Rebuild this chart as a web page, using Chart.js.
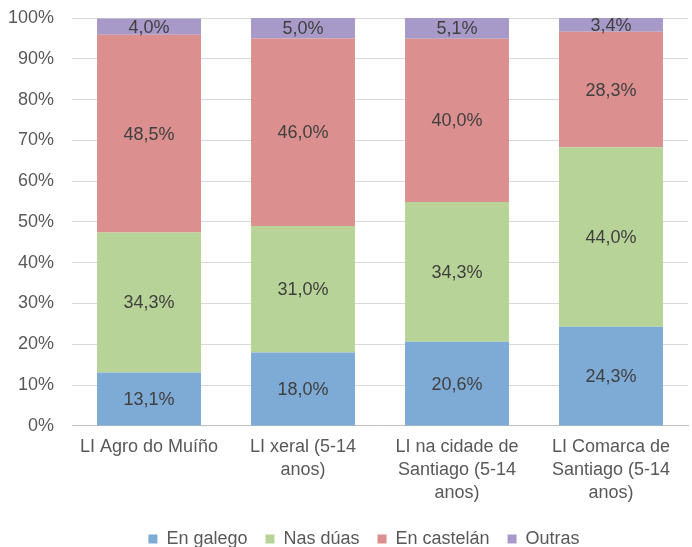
<!DOCTYPE html>
<html>
<head>
<meta charset="utf-8">
<script src="https://cdn.jsdelivr.net/npm/chart.js@4.4.0/dist/chart.umd.min.js"></script>
<style>
  html, body { margin: 0; padding: 0; background: #fff; }
  #wrap { width: 692px; height: 547px; }
</style>
</head>
<body>
<div id="wrap"><canvas id="grafico" width="692" height="547"></canvas></div>
<script>
// datos
const categorias = [
    "LI Agro do Muíño",
    ["LI xeral (5-14", "anos)"],
    ["LI na cidade de", "Santiago (5-14", "anos)"],
    ["LI Comarca de", "Santiago (5-14", "anos)"]
];
const enGalego = [13.1, 18.0, 20.6, 24.3];
const nasDuas = [34.3, 31.0, 34.3, 44.0];
const enCastelan = [48.5, 46.0, 40.0, 28.3];
const outras = [4.0, 5.0, 5.1, 3.4];

const fuente = "'Liberation Sans', Arial, sans-serif";

// etiquetas dentro das barras
const etiquetas = {
    id: "etiquetas",
    afterDatasetsDraw(chart) {
        const ctx = chart.ctx;
        ctx.save();
        ctx.font = "18px " + fuente;
        ctx.fillStyle = "#404040";
        ctx.textAlign = "center";
        ctx.textBaseline = "middle";
        chart.data.datasets.forEach((ds, i) => {
            chart.getDatasetMeta(i).data.forEach((bar, j) => {
                let txt = ds.data[j].toFixed(1).replace(".", ",") + "%";
                ctx.fillText(txt, bar.x, (bar.y + bar.base) / 2 + 1);
            });
        });
        ctx.restore();
    }
};

// mover a lenda un pouco á dereita
const moverLenda = {
    id: "moverLenda",
    afterLayout(chart) {
        chart.legend.left += 20;
        chart.legend.right += 20;
    }
};

new Chart(document.getElementById("grafico"), {
    type: "bar",
    data: {
        labels: categorias,
        datasets: [
            { label: "En galego", data: enGalego, backgroundColor: "#7eaad6" },
            { label: "Nas dúas", data: nasDuas, backgroundColor: "#b7d397" },
            { label: "En castelán", data: enCastelan, backgroundColor: "#db8f8e" },
            { label: "Outras", data: outras, backgroundColor: "#a89ac8" }
        ]
    },
    options: {
        responsive: false,
        animation: false,
        layout: { padding: { top: 18, right: 4, left: 0, bottom: -11 } },
        datasets: { bar: { categoryPercentage: 1, barPercentage: 0.675 } },
        scales: {
            x: {
                stacked: true,
                grid: { display: false },
                border: { color: "#bfbfbf" },
                afterFit: s => { s.height += 5; },
                ticks: {
                    color: "#595959",
                    font: { family: fuente, size: 18, lineHeight: 1.28 },
                    maxRotation: 0,
                    autoSkip: false,
                    padding: 2
                }
            },
            y: {
                stacked: true,
                min: 0,
                max: 100,
                grid: { color: "#d9d9d9", tickLength: 18, tickColor: "transparent" },
                border: { display: false },
                afterFit: s => { s.width = 72; },
                ticks: {
                    stepSize: 10,
                    padding: 0,
                    color: "#595959",
                    font: { family: fuente, size: 18 },
                    callback: v => v + "%"
                }
            }
        },
        plugins: {
            legend: {
                position: "bottom",
                labels: {
                    boxWidth: 9,
                    boxHeight: 9,
                    padding: 18,
                    color: "#595959",
                    font: { family: fuente, size: 18 }
                }
            },
            tooltip: { enabled: false }
        }
    },
    plugins: [etiquetas, moverLenda]
});
</script>
</body>
</html>
